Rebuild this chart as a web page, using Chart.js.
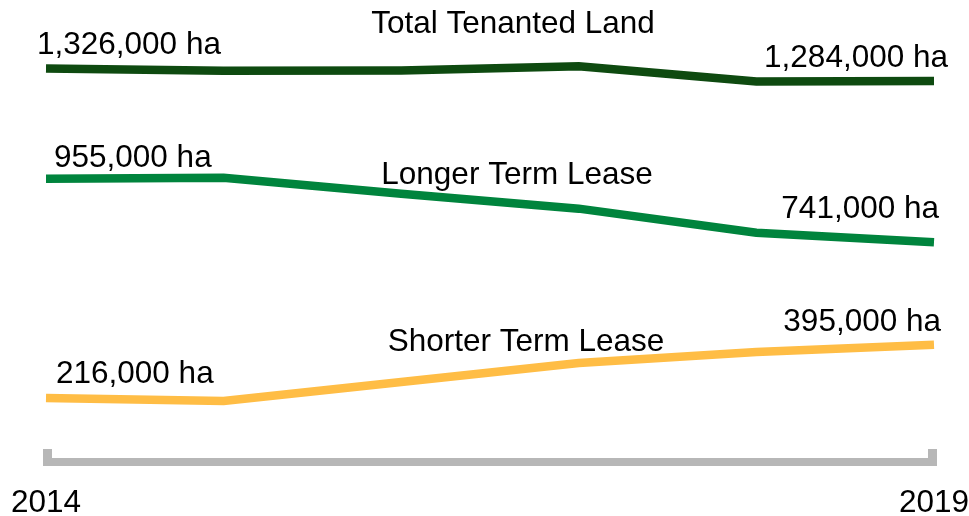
<!DOCTYPE html>
<html lang="en">
<head>
    <meta charset="UTF-8">
    <title>Tenanted Land</title>
    <script src="https://cdn.jsdelivr.net/npm/chart.js"></script>
    <style>
        html, body { margin: 0; padding: 0; background: #fff; }
        .chart-container { width: 969px; height: 516px; position: relative; }
    </style>
</head>
<body>
    <div class="chart-container">
        <canvas id="leaseChart"></canvas>
    </div>

    <script>
        // data (hectares)
        const years = ['2014', '2015', '2016', '2017', '2018', '2019'];
        const totalLand = [1326000, 1319000, 1320000, 1334000, 1283000, 1284000];
        const longerTerm = [955000, 958000, 904000, 854000, 773000, 741000];
        const shorterTerm = [216000, 206000, 270000, 334000, 371000, 395000];
        const seriesNames = ['Total Tenanted Land', 'Longer Term Lease', 'Shorter Term Lease'];
        const axisLabels = ['2014', '2019'];

        const colors = ['#0e4a10', '#00843d', '#ffbd45'];
        const axisGrey = '#b7b7b7';
        const font = '31.5px "Liberation Sans", Arial, sans-serif';

        function ha(v) {
            return v.toLocaleString('en-US') + ' ha';
        }

        // text placement offsets, relative to the first / last point of each line
        const labelStyle = [
            { name: [23, 33], start: [-9, -15], end: [14, -14] },
            { name: [27, 184], start: [8, -12], end: [5, -24] },
            { name: [36, 351], start: [10, -15], end: [7, -14] }
        ];

        // bracket axis and the text labels
        const decorations = {
            id: 'decorations',
            afterDatasetsDraw(chart) {
                const ctx = chart.ctx;
                const x = chart.scales.x;
                const y = chart.scales.y;
                const x0 = x.getPixelForValue(0);
                const x1 = x.getPixelForValue(years.length - 1);
                const y0 = y.getPixelForValue(0);

                ctx.save();
                ctx.fillStyle = axisGrey;
                ctx.fillRect(x0 - 3, y0 - 4, x1 - x0 + 6, 8);
                ctx.fillRect(x0 - 3, y0 - 13, 9, 17);
                ctx.fillRect(x1 - 6, y0 - 13, 9, 17);

                ctx.fillStyle = '#000';
                ctx.font = font;
                ctx.textBaseline = 'alphabetic';
                ctx.textAlign = 'center';
                ctx.fillText(axisLabels[0], x0, 512);
                ctx.fillText(axisLabels[1], x1, 512);

                chart.data.datasets.forEach((ds, i) => {
                    const s = labelStyle[i];
                    const first = ds.data[0];
                    const last = ds.data[ds.data.length - 1];
                    const mid = (x0 + x1) / 2;

                    ctx.textAlign = 'center';
                    ctx.fillText(seriesNames[i], mid + s.name[0], s.name[1]);

                    ctx.textAlign = 'left';
                    ctx.fillText(ha(first), x0 + s.start[0], y.getPixelForValue(first) + s.start[1]);

                    ctx.textAlign = 'right';
                    ctx.fillText(ha(last), x1 + s.end[0], y.getPixelForValue(last) + s.end[1]);
                });
                ctx.restore();
            }
        };

        const series = [totalLand, longerTerm, shorterTerm];

        new Chart(document.getElementById('leaseChart'), {
            type: 'line',
            data: {
                labels: years,
                datasets: series.map((values, i) => ({
                    label: seriesNames[i],
                    data: values,
                    borderColor: colors[i],
                    borderWidth: 8.5,
                    borderCapStyle: 'butt',
                    borderJoinStyle: 'miter',
                    tension: 0,
                    pointRadius: 0,
                    fill: false
                }))
            },
            options: {
                responsive: true,
                maintainAspectRatio: false,
                animation: false,
                layout: {
                    padding: { top: 17, bottom: 54, left: 46, right: 35 }
                },
                plugins: {
                    legend: { display: false },
                    tooltip: { enabled: false }
                },
                scales: {
                    x: { display: false, offset: false },
                    y: { display: false, min: 0, max: 1500000 }
                }
            },
            plugins: [decorations]
        });
    </script>
</body>
</html>
